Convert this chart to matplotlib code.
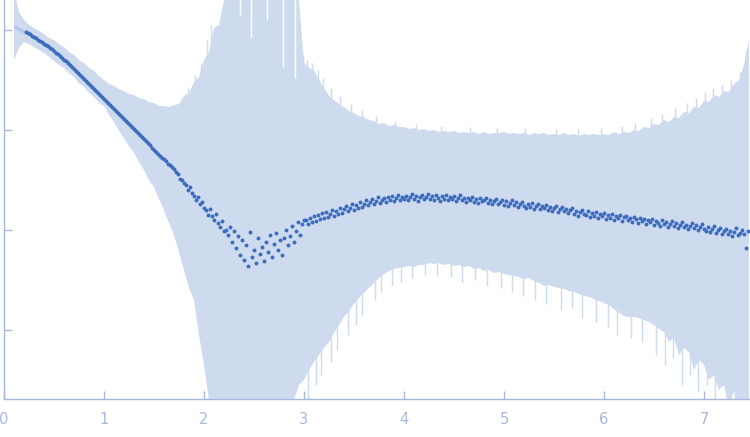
import numpy as np
import matplotlib
matplotlib.use("Agg")
import matplotlib.pyplot as plt

# ---- data (log10 intensity, arbitrary units) ----
q_start, q_step = 0.22, 0.02
log_I = [
    -0.02, -0.035, -0.045, -0.06, -0.07, -0.085, -0.10, -0.11, -0.125, -0.14,
    -0.15, -0.165, -0.18, -0.195, -0.21, -0.23, -0.245, -0.26, -0.28, -0.30,
    -0.315, -0.335, -0.355, -0.37, -0.39, -0.41, -0.43, -0.45, -0.47, -0.49,
    -0.51, -0.53, -0.55, -0.57, -0.59, -0.61, -0.63, -0.65, -0.67, -0.69,
    -0.71, -0.73, -0.75, -0.77, -0.79, -0.81, -0.83, -0.85, -0.87, -0.89,
    -0.91, -0.93, -0.95, -0.97, -0.99, -1.01, -1.03, -1.05, -1.07, -1.09,
    -1.11, -1.13, -1.15, -1.18, -1.20, -1.22, -1.24, -1.26, -1.28, -1.29,
    -1.31, -1.34, -1.35, -1.37, -1.39, -1.42, -1.44, -1.49, -1.50, -1.53,
    -1.55, -1.60, -1.57, -1.63, -1.66, -1.70, -1.67, -1.74, -1.72, -1.78,
    -1.80, -1.85, -1.79, -1.86, -1.90, -1.84, -1.93, -1.97, -1.91, -2.01,
    -2.00, -2.05, -1.97, -2.12, -2.01, -2.18, -2.06, -2.25, -2.10, -2.30,
    -2.15, -2.36, -2.02, -2.27, -2.20, -2.33, -2.08, -2.24, -2.17, -2.31,
    -2.12, -2.22, -2.05, -2.27, -2.14, -2.03, -2.20, -2.10, -2.25, -2.08,
    -2.00, -2.15, -2.06, -1.96, -2.12, -2.01, -1.92, -2.05, -1.94, -1.90,
    -1.90, -1.94, -1.88, -1.92, -1.86, -1.91, -1.85, -1.89, -1.83, -1.88,
    -1.82, -1.87, -1.84, -1.80, -1.86, -1.81, -1.84, -1.78, -1.83, -1.79,
    -1.76, -1.81, -1.78, -1.74, -1.80, -1.75, -1.78, -1.72, -1.77, -1.74,
    -1.70, -1.75, -1.72, -1.69, -1.74, -1.71, -1.67, -1.73, -1.70, -1.68,
    -1.72, -1.67, -1.70, -1.66, -1.71, -1.68, -1.65, -1.70, -1.67, -1.69,
    -1.66, -1.70, -1.67, -1.64, -1.69, -1.66, -1.71, -1.67, -1.65, -1.69,
    -1.67, -1.64, -1.69, -1.66, -1.70, -1.65, -1.68, -1.71, -1.66, -1.69,
    -1.65, -1.70, -1.67, -1.69, -1.66, -1.71, -1.68, -1.65, -1.70, -1.68,
    -1.72, -1.68, -1.70, -1.67, -1.72, -1.69, -1.73, -1.68, -1.71, -1.70,
    -1.68, -1.73, -1.70, -1.74, -1.71, -1.69, -1.74, -1.72, -1.70, -1.75,
    -1.71, -1.76, -1.73, -1.70, -1.75, -1.72, -1.77, -1.74, -1.72, -1.76,
    -1.78, -1.74, -1.77, -1.73, -1.79, -1.76, -1.74, -1.79, -1.76, -1.78,
    -1.75, -1.80, -1.77, -1.81, -1.78, -1.76, -1.82, -1.79, -1.77, -1.81,
    -1.79, -1.83, -1.80, -1.78, -1.84, -1.81, -1.86, -1.82, -1.80, -1.84,
    -1.85, -1.81, -1.87, -1.83, -1.86, -1.82, -1.88, -1.84, -1.86, -1.83,
    -1.89, -1.85, -1.88, -1.84, -1.90, -1.86, -1.88, -1.85, -1.91, -1.87,
    -1.86, -1.90, -1.88, -1.92, -1.87, -1.89, -1.93, -1.88, -1.91, -1.89,
    -1.94, -1.90, -1.92, -1.89, -1.95, -1.91, -1.93, -1.96, -1.90, -1.94,
    -1.92, -1.97, -1.94, -1.91, -1.96, -1.93, -1.98, -1.95, -1.92, -1.97,
    -1.95, -1.99, -1.96, -1.93, -1.98, -1.95, -2.00, -1.97, -1.94, -1.99,
    -2.01, -1.97, -2.02, -1.99, -1.96, -2.03, -2.00, -1.98, -2.04, -2.01,
    -1.99, -2.04, -2.01, -2.06, -2.02, -1.98, -2.05, -2.03, -2.00, -2.04,
    -2.18, -2.01,
]

# excluded low-q points (drawn lighter)
q_excl = [0.11, 0.13, 0.15, 0.17, 0.19, 0.21]
log_I_excl = [0.03, 0.02, 0.01, 0.00, -0.01, -0.02]

# error band (log10 of I+sigma and I-sigma), sampled every 0.05
band_start, band_step = 0.10, 0.05
band_hi = [
    0.40, 0.18, 0.10, 0.05, 0.02, -0.01, -0.04, -0.08, -0.10, -0.14,
    -0.17, -0.22, -0.25, -0.30, -0.33, -0.38, -0.41, -0.46, -0.50, -0.54,
    -0.56, -0.59, -0.61, -0.64, -0.65, -0.68, -0.69, -0.72, -0.73, -0.76,
    -0.76, -0.77, -0.75, -0.74, -0.66, -0.63, -0.52, -0.47, -0.30, -0.22,
    0.02, 0.05, 0.30, 0.40, 0.40, 0.40, 0.40, 0.40, 0.40, 0.40,
    0.40, 0.40, 0.40, 0.40, 0.40, 0.40, 0.40, 0.30, -0.33, -0.38,
    -0.40, -0.50, -0.58, -0.66, -0.70, -0.74, -0.77, -0.81, -0.83, -0.86,
    -0.87, -0.90, -0.91, -0.94, -0.93, -0.96, -0.95, -0.97, -0.97, -0.99,
    -0.98, -1.00, -0.99, -1.01, -1.00, -1.02, -1.01, -1.02, -1.01, -1.03,
    -1.02, -1.03, -1.02, -1.04, -1.02, -1.04, -1.03, -1.03, -1.02, -1.04,
    -1.03, -1.04, -1.03, -1.05, -1.03, -1.04, -1.03, -1.05, -1.04, -1.05,
    -1.03, -1.05, -1.04, -1.06, -1.04, -1.05, -1.04, -1.05, -1.04, -1.05,
    -1.02, -1.04, -1.02, -1.03, -1.00, -1.01, -0.97, -0.98, -0.94, -0.95,
    -0.90, -0.92, -0.87, -0.88, -0.82, -0.83, -0.77, -0.78, -0.71, -0.72,
    -0.65, -0.67, -0.61, -0.62, -0.54, -0.50, -0.35, -0.10,
]
band_lo = [
    -0.30, -0.18, -0.12, -0.14, -0.17, -0.20, -0.23, -0.27, -0.31, -0.35,
    -0.38, -0.43, -0.47, -0.53, -0.57, -0.63, -0.67, -0.73, -0.76, -0.85,
    -0.92, -1.01, -1.08, -1.16, -1.23, -1.32, -1.40, -1.50, -1.57, -1.69,
    -1.80, -1.93, -2.05, -2.22, -2.40, -2.58, -2.70, -3.05, -3.35, -3.70,
    -4.0, -4.0, -4.0, -4.0, -4.0, -4.0, -4.0, -4.0, -4.0, -4.0,
    -4.0, -4.0, -4.0, -4.0, -4.0, -4.0, -3.70, -3.55, -3.50, -3.40,
    -3.32, -3.25, -3.18, -3.12, -3.03, -2.95, -2.87, -2.81, -2.74, -2.68,
    -2.63, -2.58, -2.53, -2.48, -2.44, -2.41, -2.39, -2.38, -2.37, -2.36,
    -2.37, -2.35, -2.35, -2.33, -2.34, -2.33, -2.35, -2.34, -2.36, -2.35,
    -2.37, -2.36, -2.39, -2.38, -2.41, -2.40, -2.43, -2.42, -2.44, -2.45,
    -2.46, -2.47, -2.49, -2.48, -2.51, -2.53, -2.56, -2.55, -2.57, -2.58,
    -2.59, -2.61, -2.62, -2.64, -2.66, -2.67, -2.69, -2.71, -2.73, -2.75,
    -2.79, -2.83, -2.86, -2.87, -2.87, -2.88, -2.90, -2.92, -2.95, -2.99,
    -3.02, -3.12, -3.08, -3.25, -3.18, -3.22, -3.40, -3.30, -3.35, -3.50,
    -3.45, -3.60, -3.55, -3.80, -3.60, -4.0, -4.0, -4.0,
]

# individual error bars sticking out of the band
spike_up_q = [1.78, 1.84, 1.91, 1.97, 2.03, 2.07, 2.99, 3.03, 3.08, 3.14,
              3.19, 3.27, 3.36, 3.47, 3.58, 3.72, 3.91, 4.12, 4.37, 4.66,
              4.93, 5.21, 5.52, 5.74, 5.97, 6.18, 6.31, 6.47, 6.58, 6.71,
              6.83, 6.92, 7.01, 7.09, 7.18, 7.27, 7.36, 7.42]
spike_up_top = [-0.68, -0.58, -0.45, -0.33, -0.10, 0.05, -0.25, -0.30, -0.33, -0.40,
                -0.48, -0.58, -0.66, -0.74, -0.80, -0.86, -0.91, -0.94, -0.96, -0.97,
                -0.98, -0.98, -0.99, -0.98, -0.98, -0.96, -0.93, -0.88, -0.84, -0.78,
                -0.73, -0.68, -0.62, -0.58, -0.55, -0.50, -0.42, -0.20]
spike_dn_q = [3.04, 3.12, 3.17, 3.27, 3.33, 3.44, 3.52, 3.58, 3.71, 3.77,
              3.88, 3.97, 4.08, 4.21, 4.33, 4.47, 4.58, 4.71, 4.83, 4.97,
              5.08, 5.19, 5.31, 5.42, 5.57, 5.68, 5.78, 5.92, 6.04, 6.13,
              6.27, 6.38, 6.52, 6.61, 6.69, 6.78, 6.86, 6.94, 7.03, 7.11,
              7.24, 7.31]
spike_dn_bottom = [-3.69, -3.55, -3.45, -3.32, -3.20, -3.05, -2.95, -2.85, -2.70, -2.62,
                   -2.55, -2.52, -2.48, -2.45, -2.46, -2.47, -2.52, -2.50, -2.56, -2.58,
                   -2.62, -2.66, -2.70, -2.74, -2.80, -2.78, -2.88, -2.92, -2.97, -3.05,
                   -3.08, -3.12, -3.25, -3.35, -3.28, -3.55, -3.45, -3.62, -3.55, -3.69,
                   -3.60, -3.69]
# thin gaps in the saturated part of the band
gap_q = [2.36, 2.47, 2.63, 2.79, 2.91]
gap_bottom = [0.15, -0.07, 0.10, -0.37, -0.48]

x_ticks = [0, 1, 2, 3, 4, 5, 6, 7]
y_ticks = [-3, -2, -1, 0]

# ---- styling ----
AX_COL = "#a8b8dc"
PT_COL = "#3b6cc0"
BAND_COL = "#cedbee"

q = np.round(q_start + q_step * np.arange(len(log_I)), 3)
qb = np.round(band_start + band_step * np.arange(len(band_hi)), 3)

fig = plt.figure(figsize=(7.5, 4.37), dpi=100)
ax = fig.add_axes([4 / 750, 38 / 437, 745 / 750, 399 / 437])

ax.fill_between(qb, band_lo, band_hi, color=BAND_COL, linewidth=0, zorder=1)
ax.vlines(spike_up_q, -1.5, spike_up_top, color=BAND_COL, linewidth=1.0, zorder=1)
ax.vlines(spike_dn_q, spike_dn_bottom, -2.1, color=BAND_COL, linewidth=1.0, zorder=1)
ax.vlines(gap_q, gap_bottom, 0.5, color="white", linewidth=1.0, zorder=1.5)
ax.scatter(q_excl, log_I_excl, s=6, color="#b4c7e8", linewidths=0, zorder=2)
ax.scatter(q, log_I, s=8, color=PT_COL, linewidths=0, zorder=3)

ax.set_xlim(0, 7.45)
ax.set_ylim(-3.69, 0.30)
ax.set_xticks(x_ticks)
ax.set_yticks(y_ticks)
ax.set_yticklabels([])
for s in ["top", "right"]:
    ax.spines[s].set_visible(False)
for s in ["left", "bottom"]:
    ax.spines[s].set_color(AX_COL)
    ax.spines[s].set_linewidth(1.0)
ax.tick_params(axis="both", direction="in", length=6, width=1, color=AX_COL,
               labelcolor=AX_COL, labelsize=10.5)
ax.tick_params(axis="x", pad=9)

fig.savefig("out.png", dpi=100)
